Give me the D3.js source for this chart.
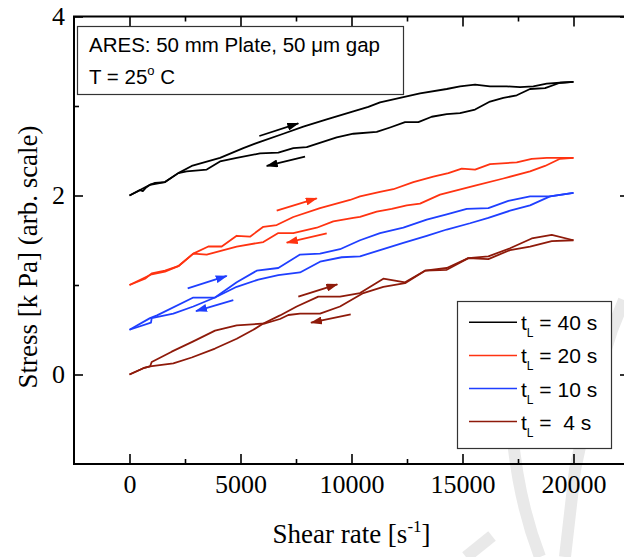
<!DOCTYPE html>
<html>
<head>
<meta charset="utf-8">
<script src="https://cdn.jsdelivr.net/npm/d3@7"></script>
<style>
  body { margin: 0; background: #fff; }
  svg { display: block; }
</style>
</head>
<body>
<svg width="624" height="557"></svg>
<script>
// ---- data (shear rate [1/s], stress [kPa, shifted]) ----
var xTicks = [0, 5000, 10000, 15000, 20000];
var xMinor = [2500, 7500, 12500, 17500];
var yTicks = [0, 2, 4];
var yMinor = [1, 3];

var tL40Up = [[0,2.00],[473,2.06],[600,2.05],[750,2.09],[924,2.12],[1149,2.14],[1599,2.15],[2198,2.25],[2802,2.33],[4077,2.42],[5127,2.53],[5879,2.60],[6929,2.69],[7830,2.77],[8884,2.85],[10082,2.94],[10758,2.99],[11285,3.04],[12335,3.10],[13087,3.14],[14290,3.19],[14889,3.22],[15565,3.24],[16240,3.22],[16993,3.22],[17592,3.21],[18191,3.22],[18795,3.25],[19394,3.26],[20000,3.27]];
var tL40Down = [[20000,3.27],[19394,3.26],[18718,3.20],[18042,3.19],[17443,3.12],[16840,3.09],[16240,3.05],[15565,2.96],[14889,2.92],[14290,2.91],[13614,2.88],[13011,2.82],[12411,2.82],[11736,2.76],[11136,2.71],[10082,2.69],[9334,2.65],[7983,2.54],[7379,2.53],[6703,2.48],[5879,2.47],[4829,2.42],[4077,2.38],[3478,2.29],[2577,2.27],[2198,2.25],[1599,2.15],[924,2.12],[0,2.00]];

var tL20Up = [[0,1.00],[698,1.07],[1000,1.13],[1599,1.16],[2198,1.21],[2874,1.35],[3550,1.43],[4154,1.43],[4829,1.55],[5429,1.54],[6028,1.65],[6631,1.67],[7379,1.76],[8582,1.86],[9934,1.95],[10384,1.99],[11285,2.04],[11884,2.07],[12785,2.15],[13686,2.21],[14362,2.25],[14966,2.30],[15565,2.29],[16240,2.35],[17443,2.37],[18119,2.41],[18795,2.42],[20000,2.42]];
var tL20Down = [[20000,2.42],[19394,2.41],[18718,2.33],[18042,2.27],[16840,2.19],[15565,2.11],[13988,2.01],[13087,1.91],[12488,1.89],[11812,1.85],[11136,1.82],[10384,1.76],[10082,1.75],[9181,1.71],[8433,1.64],[7379,1.58],[6703,1.58],[6028,1.48],[4829,1.43],[3478,1.34],[2874,1.35],[2198,1.21],[1599,1.15],[1000,1.12],[0,1.00]];

var tL10Up = [[0,0.50],[924,0.63],[1240,0.66],[2874,0.86],[3852,0.86],[4829,1.03],[5730,1.16],[6703,1.19],[7681,1.34],[8582,1.35],[9483,1.40],[10384,1.50],[11285,1.58],[12335,1.64],[13389,1.73],[14290,1.79],[15191,1.85],[16164,1.86],[17065,1.94],[18042,1.99],[18943,1.99],[20000,2.03]];
var tL10Down = [[20000,2.03],[18943,1.99],[18042,1.89],[17141,1.83],[16164,1.75],[15339,1.69],[14290,1.62],[13389,1.55],[12335,1.47],[11285,1.39],[10384,1.32],[9559,1.31],[8582,1.26],[7681,1.14],[6703,1.11],[5802,1.06],[4829,0.98],[3852,0.86],[2874,0.76],[1973,0.68],[1000,0.63],[968,0.58],[0,0.50]];

var tL4Up = [[0,0.00],[622,0.07],[924,0.09],[1973,0.125],[2802,0.19],[3852,0.29],[4829,0.40],[5577,0.50],[6028,0.57],[6780,0.66],[7532,0.76],[8505,0.87],[9483,0.87],[10384,0.91],[11434,1.07],[12411,1.03],[13312,1.16],[14290,1.19],[15263,1.30],[16164,1.32],[17141,1.41],[18119,1.52],[19020,1.56],[20000,1.50]];
var tL4Down = [[20000,1.50],[19020,1.49],[18042,1.43],[17141,1.39],[16164,1.29],[15263,1.30],[14290,1.17],[13312,1.16],[12411,1.02],[11434,0.98],[10534,0.91],[9483,0.76],[8582,0.68],[7681,0.68],[7154,0.665],[6780,0.62],[6104,0.57],[4829,0.55],[3852,0.49],[2874,0.37],[1901,0.255],[1000,0.14],[924,0.09],[622,0.07],[0,0.00]];

// arrows: [x1, y1, x2, y2] in data units
var arrows40 = [[5848,2.665,7604,2.807],[7906,2.433,6181,2.330]];
var arrows20 = [[6631,1.830,8433,1.969],[8884,1.578,7082,1.473]];
var arrows10 = [[2622,0.963,4379,1.101],[4676,0.832,2996,0.709]];
var arrows4  = [[7604,0.869,9361,1.008],[9965,0.673,8177,0.579]];

var legendLabels = ["40", "20", "10", " 4"];
var colors = ["#000000", "#ff3311", "#1f3fff", "#8e1a0a"];

var series = [
  {up: tL40Up, down: tL40Down, arrows: arrows40},
  {up: tL20Up, down: tL20Down, arrows: arrows20},
  {up: tL10Up, down: tL10Down, arrows: arrows10},
  {up: tL4Up,  down: tL4Down,  arrows: arrows4}
];

var svg = d3.select("svg");

var x = d3.scaleLinear().domain([-2500, 22500]).range([74, 629]);
var y = d3.scaleLinear().domain([-1, 4]).range([464, 16.5]);

// faint watermark strokes
var wm = svg.append("g").attr("fill", "none").attr("stroke", "#e9e9e9").attr("stroke-width", 12);
wm.append("path").attr("d", "M624,300 L612,330 L590,400 L575,470 L565,557");
wm.append("path").attr("d", "M512,430 Q518,500 540,557");
wm.append("path").attr("d", "M466,557 L492,536");

// axes
var axG = svg.append("g").attr("class", "axes");

function styleAxis(g) {
  g.select(".domain").remove();
  g.selectAll("line").attr("stroke", "#000").attr("stroke-width", 1.6);
  g.selectAll("text").attr("font-family", "'Liberation Serif', 'Times New Roman', serif")
    .attr("font-size", 26).attr("fill", "#000");
}

axG.append("g").attr("transform", "translate(0," + y(-1) + ")")
  .call(d3.axisBottom(x).tickValues(xTicks).tickSize(-10).tickPadding(11).tickFormat(d3.format("d")))
  .call(styleAxis);
axG.append("g").attr("transform", "translate(0," + y(-1) + ")")
  .call(d3.axisBottom(x).tickValues(xMinor).tickSize(-5).tickFormat(""))
  .call(styleAxis);
axG.append("g").attr("transform", "translate(0," + y(4) + ")")
  .call(d3.axisTop(x).tickValues(xTicks).tickSize(-10).tickFormat(""))
  .call(styleAxis);
axG.append("g").attr("transform", "translate(0," + y(4) + ")")
  .call(d3.axisTop(x).tickValues(xMinor).tickSize(-5).tickFormat(""))
  .call(styleAxis);

axG.append("g").attr("transform", "translate(" + x(-2500) + ",0)")
  .call(d3.axisLeft(y).tickValues(yTicks).tickSize(-9).tickPadding(9).tickFormat(d3.format("d")))
  .call(styleAxis);
axG.append("g").attr("transform", "translate(" + x(-2500) + ",0)")
  .call(d3.axisLeft(y).tickValues(yMinor).tickSize(-5).tickFormat(""))
  .call(styleAxis);
axG.append("g").attr("transform", "translate(" + x(22500) + ",0)")
  .call(d3.axisRight(y).tickValues(yTicks).tickSize(-9).tickFormat(""))
  .call(styleAxis);
axG.append("g").attr("transform", "translate(" + x(22500) + ",0)")
  .call(d3.axisRight(y).tickValues(yMinor).tickSize(-5).tickFormat(""))
  .call(styleAxis);

// frame
svg.append("rect")
  .attr("x", x(-2500)).attr("y", y(4))
  .attr("width", x(22500) - x(-2500)).attr("height", y(-1) - y(4))
  .attr("fill", "none").attr("stroke", "#000").attr("stroke-width", 2);

// arrow markers
var defs = svg.append("defs");
colors.forEach(function(c, i) {
  defs.append("marker")
    .attr("id", "head" + i)
    .attr("markerUnits", "userSpaceOnUse")
    .attr("viewBox", "0 0 12 8")
    .attr("refX", 11).attr("refY", 4)
    .attr("markerWidth", 12).attr("markerHeight", 8)
    .attr("orient", "auto")
    .append("path").attr("d", "M0,0 L12,4 L0,8 Z").attr("fill", c);
});

var line = d3.line().x(function(d){ return x(d[0]); }).y(function(d){ return y(d[1]); });

var plot = svg.append("g");
series.forEach(function(s, i) {
  plot.append("path").datum(s.up)
    .attr("d", line).attr("fill", "none").attr("stroke", colors[i])
    .attr("stroke-width", 1.8).attr("stroke-linejoin", "round");
  plot.append("path").datum(s.down)
    .attr("d", line).attr("fill", "none").attr("stroke", colors[i])
    .attr("stroke-width", 1.8).attr("stroke-linejoin", "round");
  plot.selectAll(null).data(s.arrows).enter().append("line")
    .attr("x1", function(d){ return x(d[0]); })
    .attr("y1", function(d){ return y(d[1]); })
    .attr("x2", function(d){ return x(d[2]); })
    .attr("y2", function(d){ return y(d[3]); })
    .attr("stroke", colors[i]).attr("stroke-width", 1.8)
    .attr("marker-end", "url(#head" + i + ")");
});

// info box
var sans = "'Liberation Sans', Arial, sans-serif";
svg.append("rect").attr("x", 77.5).attr("y", 26.5).attr("width", 326).attr("height", 68)
  .attr("fill", "#fff").attr("stroke", "#333").attr("stroke-width", 1.2);
svg.append("text").attr("x", 89).attr("y", 52).attr("font-family", sans).attr("font-size", 20.5)
  .text("ARES: 50 mm Plate, 50 \u03bcm gap");
var t2 = svg.append("text").attr("x", 89).attr("y", 83.5).attr("font-family", sans).attr("font-size", 20.5);
t2.append("tspan").text("T = 25");
t2.append("tspan").attr("font-size", 13).attr("dy", -9).text("o");
t2.append("tspan").attr("dy", 9).text(" C");

// legend
var lg = svg.append("g");
lg.append("rect").attr("x", 457.5).attr("y", 301.5).attr("width", 154).attr("height", 147)
  .attr("fill", "#fff").attr("stroke", "#333").attr("stroke-width", 1.2);
legendLabels.forEach(function(lab, i) {
  var yy = 322.3 + i * 33.1;
  lg.append("line").attr("x1", 469).attr("x2", 517).attr("y1", yy).attr("y2", yy)
    .attr("stroke", colors[i]).attr("stroke-width", 1.5);
  var t = lg.append("text").attr("x", 521).attr("y", yy + 8).attr("font-family", sans)
    .attr("font-size", 21).style("white-space", "pre");
  t.append("tspan").text("t");
  t.append("tspan").attr("font-size", 12).attr("dy", 7).text("L");
  t.append("tspan").attr("dy", -7).text(" = " + lab + " s");
});

// axis titles
var serif = "'Liberation Serif', 'Times New Roman', serif";
var xt = svg.append("text").attr("x", x(10000)).attr("y", 543).attr("text-anchor", "middle")
  .attr("font-family", serif).attr("font-size", 27);
xt.append("tspan").text("Shear rate [s");
xt.append("tspan").attr("font-size", 17).attr("dy", -11).text("-1");
xt.append("tspan").attr("dy", 11).text("]");

svg.append("text").attr("transform", "translate(37,257) rotate(-90)")
  .attr("text-anchor", "middle").attr("font-family", serif).attr("font-size", 27)
  .text("Stress [k Pa] (arb. scale)");
</script>
</body>
</html>
